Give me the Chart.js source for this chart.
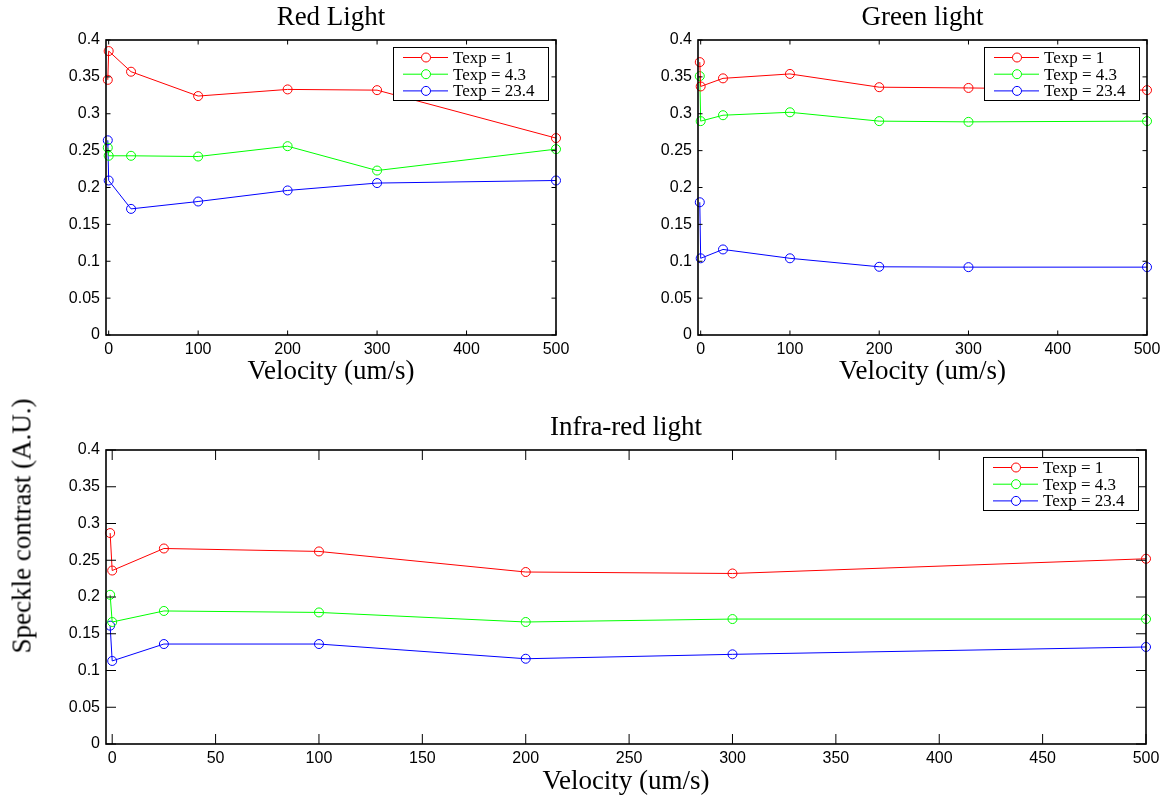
<!DOCTYPE html>
<html>
<head>
<meta charset="utf-8">
<script src="https://cdn.jsdelivr.net/npm/chart.js@4.4.1/dist/chart.umd.min.js"></script>
<style>
body{margin:0;background:#fff;width:1168px;height:799px;position:relative;overflow:hidden}
canvas{position:absolute}
#ylab{position:absolute;left:22px;top:526px;transform:translate(-50%,-50%) rotate(-90deg);white-space:nowrap;font:27px 'Liberation Serif',serif;color:#000}
</style>
</head>
<body>
<canvas id="red" width="584" height="400" style="left:0;top:0"></canvas>
<canvas id="green" width="584" height="400" style="left:584px;top:0"></canvas>
<canvas id="ir" width="1168" height="399" style="left:0;top:400px"></canvas>
<div id="ylab">Speckle contrast (A.U.)</div>
<script>
// velocities (um/s) and exposure times
const velocity=[-1,0,25,100,200,300,500];
const exposures=['1','4.3','23.4'];
const colors=['#ff0000','#00ff00','#0000ff'];

const yTicks=[0,0.05,0.1,0.15,0.2,0.25,0.3,0.35,0.4];
const xTicksTop=[0,100,200,300,400,500];
const xTicksBottom=[0,50,100,150,200,250,300,350,400,450,500];

// red light
const redT1=[0.346,0.385,0.357,0.324,0.333,0.332,0.267];
const redT43=[0.254,0.243,0.243,0.242,0.256,0.223,0.252];
const redT234=[0.264,0.2095,0.171,0.181,0.196,0.206,0.2095];
// green light
const greenT1=[0.370,0.337,0.348,0.354,0.336,0.335,0.332];
const greenT43=[0.351,0.290,0.298,0.302,0.290,0.289,0.290];
const greenT234=[0.180,0.104,0.116,0.104,0.0925,0.092,0.092];
// infra-red light
const irT1=[0.287,0.236,0.266,0.262,0.234,0.232,0.252];
const irT43=[0.203,0.166,0.181,0.179,0.166,0.170,0.170];
const irT234=[0.161,0.113,0.136,0.136,0.116,0.122,0.132];

const serif="'Liberation Serif', serif";
const sans="'Liberation Sans', Arial, sans-serif";

// box round the axes with inward ticks on all four sides
const frame={
  id:'frame',
  afterDatasetsDraw(chart,args,o){
    const ctx=chart.ctx,a=chart.chartArea,xs=chart.scales.x,ys=chart.scales.y,len=o.tickLen;
    ctx.save();
    ctx.strokeStyle='#000';
    ctx.lineWidth=1;
    ctx.beginPath();
    xs.ticks.forEach(t=>{
      const p=xs.getPixelForValue(t.value);
      ctx.moveTo(p,a.bottom);ctx.lineTo(p,a.bottom-len);
      ctx.moveTo(p,a.top);ctx.lineTo(p,a.top+len);
    });
    ys.ticks.forEach(t=>{
      const p=ys.getPixelForValue(t.value);
      ctx.moveTo(a.left,p);ctx.lineTo(a.left+len,p);
      ctx.moveTo(a.right,p);ctx.lineTo(a.right-len,p);
    });
    ctx.stroke();
    ctx.lineWidth=1.6;
    ctx.strokeRect(a.left,a.top,a.right-a.left,a.bottom-a.top);
    ctx.restore();
  }
};

// legend box in the upper right corner of the axes
const boxLegend={
  id:'boxLegend',
  afterDraw(chart){
    const ctx=chart.ctx,a=chart.chartArea;
    const w=155,h=53,x0=Math.round(a.right-8-w),y0=Math.round(a.top+7);
    ctx.save();
    ctx.fillStyle='#fff';
    ctx.fillRect(x0,y0,w,h);
    ctx.strokeStyle='#000';
    ctx.lineWidth=1;
    ctx.strokeRect(x0+0.5,y0+0.5,w,h);
    ctx.font='17px '+serif;
    ctx.textBaseline='middle';
    chart.data.datasets.forEach((ds,i)=>{
      const y=y0+10.5+i*16.7,cx=x0+33;
      ctx.strokeStyle=ds.borderColor;
      ctx.beginPath();
      ctx.moveTo(x0+10,y);ctx.lineTo(cx-4.5,y);
      ctx.moveTo(cx+4.5,y);ctx.lineTo(x0+55,y);
      ctx.stroke();
      ctx.beginPath();
      ctx.arc(cx,y,4.5,0,Math.PI*2);
      ctx.stroke();
      ctx.fillStyle='#000';
      ctx.fillText(ds.label,x0+60,y+1);
    });
    ctx.restore();
  }
};

function makeChart(id,title,series,xTicks,opt){
  return new Chart(document.getElementById(id),{
    type:'line',
    data:{
      datasets:series.map((vals,i)=>({
        label:'Texp = '+exposures[i],
        data:velocity.map((v,j)=>({x:v,y:vals[j]})),
        borderColor:colors[i],
        borderWidth:1,
        pointRadius:4.5,
        pointBorderWidth:1,
        pointBorderColor:colors[i],
        pointBackgroundColor:'rgba(0,0,0,0)',
        tension:0,
        clip:false
      }))
    },
    options:{
      responsive:false,
      animation:false,
      events:[],
      layout:{padding:{left:0,right:opt.padRight,top:0,bottom:0}},
      plugins:{
        legend:{display:false},
        tooltip:{enabled:false},
        title:{display:true,text:title,fullSize:false,color:'#000',
          font:{family:serif,size:27,weight:'normal'},
          padding:{top:opt.titleTop,bottom:opt.titleBottom}},
        frame:{tickLen:opt.tickLen}
      },
      scales:{
        x:{
          type:'linear',min:-3,max:500,
          afterBuildTicks:s=>{s.ticks=xTicks.map(v=>({value:v}));},
          afterFit:s=>{s.height=opt.xHeight;},
          grid:{display:false,drawTicks:false},
          border:{display:false},
          ticks:{padding:4.5,color:'#000',font:{family:sans,size:16},callback:v=>String(v)},
          title:{display:true,text:'Velocity (um/s)',color:'#000',
            font:{family:serif,size:27,weight:'normal'},padding:{top:0,bottom:opt.xTitleBottom}}
        },
        y:{
          type:'linear',min:0,max:0.4,
          afterBuildTicks:s=>{s.ticks=yTicks.map(v=>({value:v}));},
          afterFit:s=>{s.width=opt.yWidth;},
          grid:{display:false,drawTicks:false},
          border:{display:false},
          ticks:{padding:6,color:'#000',font:{family:sans,size:16},callback:v=>String(+v.toFixed(2))}
        }
      }
    },
    plugins:[frame,boxLegend]
  });
}

makeChart('red','Red Light',[redT1,redT43,redT234],xTicksTop,
  {padRight:28,yWidth:106,xHeight:65,titleTop:1.8,titleBottom:5.8,xTitleBottom:11.8,tickLen:4.5});
makeChart('green','Green light',[greenT1,greenT43,greenT234],xTicksTop,
  {padRight:21,yWidth:114,xHeight:65,titleTop:1.8,titleBottom:5.8,xTitleBottom:11.8,tickLen:4.5});
makeChart('ir','Infra-red light',[irT1,irT43,irT234],xTicksBottom,
  {padRight:22,yWidth:106,xHeight:55,titleTop:11.8,titleBottom:5.8,xTitleBottom:1.3,tickLen:10});
</script>
</body>
</html>
